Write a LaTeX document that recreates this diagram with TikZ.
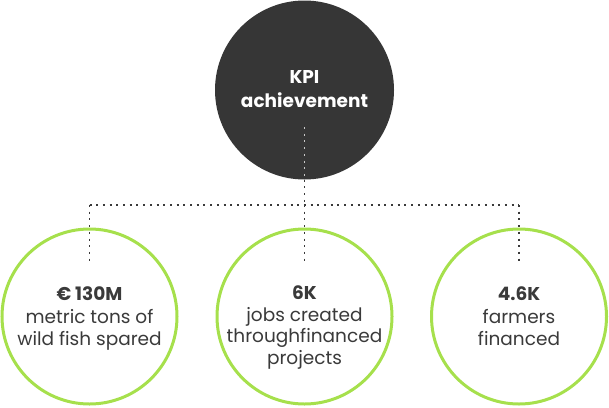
\documentclass[tikz,border=0pt]{standalone}
\usepackage{fontspec}
\setmainfont{Poppins}
\definecolor{darkc}{HTML}{363636}
\definecolor{txtc}{HTML}{3A3A3A}
\definecolor{greenc}{HTML}{A6E04C}
\definecolor{dotc}{HTML}{3A3A3A}
\definecolor{dotlight}{HTML}{C8C8C8}
\tikzset{
  kpibox/.style={circle, fill=darkc, minimum size=179pt, inner sep=0pt},
  kpitext/.style={text=white, align=center, inner sep=0pt, anchor=base, font=\fontsize{18.5}{24}\selectfont},
  ringbox/.style={circle, draw=greenc, line width=3pt, fill=white, minimum size=175pt, inner sep=0pt},
  ringtext/.style={text=txtc, align=center, inner sep=0pt, anchor=base, font=\fontsize{18.5}{22.5}\selectfont},
  dotline/.style={line width=1.4pt, dash pattern=on 2pt off 4.7pt, draw=dotc},
}
\begin{document}
\begin{tikzpicture}[x=1pt,y=-1pt]
\useasboundingbox (0,0) rectangle (609,407);
\node[kpibox] (kpi) at (304.5,90) {};
\node[kpitext] (kpit) at (304.5,107.5) {\textbf{KPI}\\\textbf{achievement}};
\node[ringbox] (c1) at (89.5,316.5) {};
\node[ringbox] (c2) at (304.5,316.5) {};
\node[ringbox] (c3) at (519,316.5) {};
\node[ringtext] (t1) at (89.5,345.5) {\textbf{€ 130M}\\metric tons of\\wild fish spared};
\node[ringtext, font=\fontsize{18.5}{21.5}\selectfont] (t2) at (304.5,364) {\textbf{6K}\\jobs created\\throughfinanced\\projects};
\node[ringtext] (t3) at (519,345.5) {\textbf{4.6K}\\farmers\\financed};
\coordinate (s) at (304.5,127);
\coordinate (j) at (304.5,205);
\coordinate (jl) at (89.5,205);
\coordinate (jr) at (519,205);
\coordinate (e1) at (89.5,262);
\coordinate (e2) at (304.5,262);
\coordinate (e3) at (519,262);
\draw[dotline, draw=dotlight] (s) -- (kpi.south);
\draw[dotline] (kpi.south) -- (j);
\draw[dotline] (jl) -- (jr);
\draw[dotline] (jl) -- (e1);
\draw[dotline] (j) -- (e2);
\draw[dotline] (jr) -- (e3);
\end{tikzpicture}
\end{document}
